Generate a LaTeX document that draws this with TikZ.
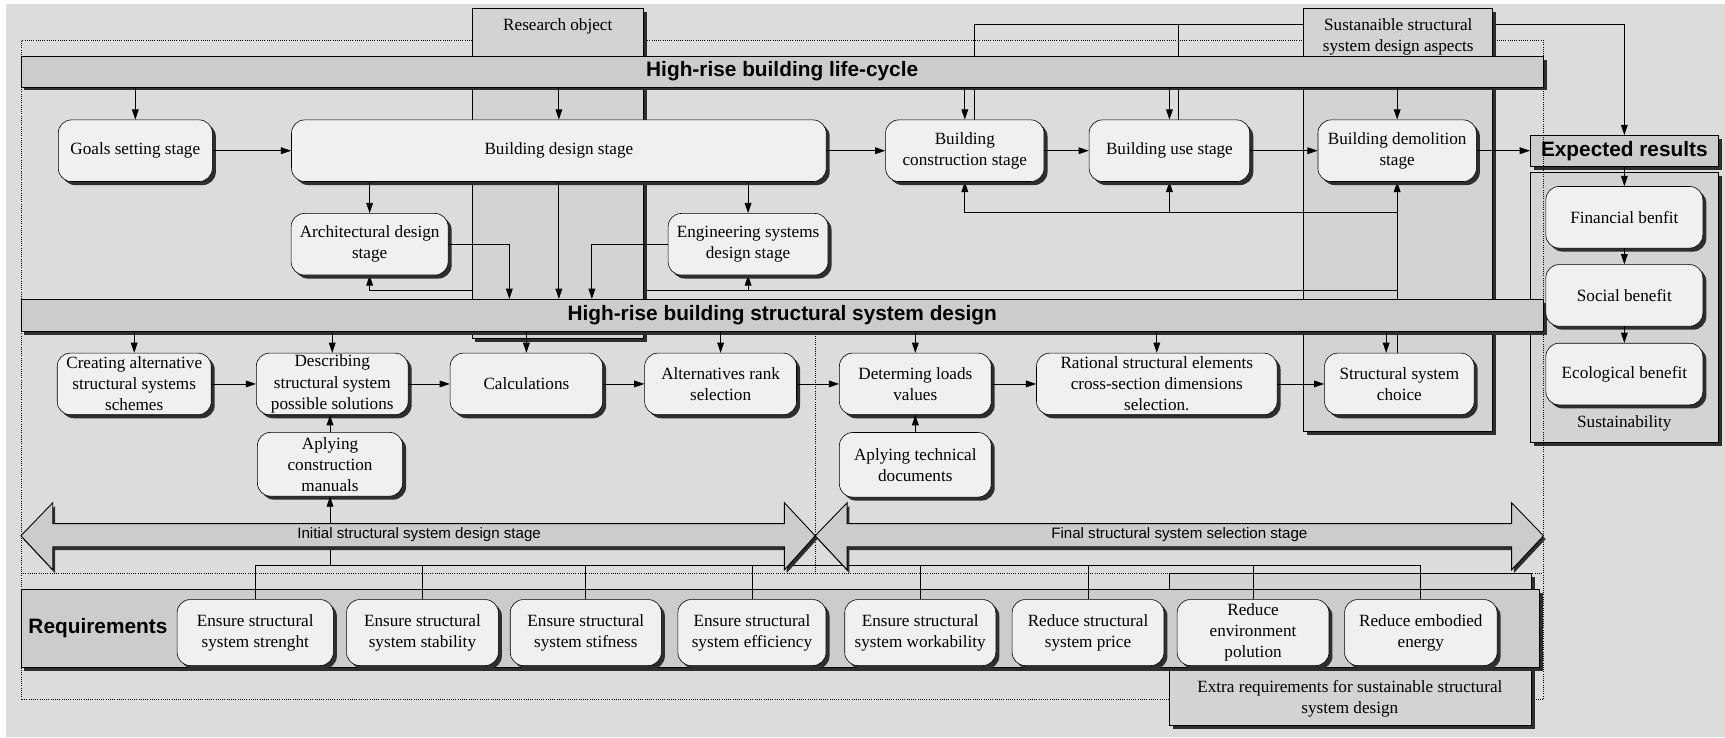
\documentclass[tikz,border=0pt]{standalone}
\usepackage{fontspec}
\setmainfont{Liberation Serif}
\newfontfamily\headfont{Liberation Sans}
\usetikzlibrary{arrows.meta,shadows}

\definecolor{bgcol}{HTML}{DCDCDC}
\definecolor{boxcol}{HTML}{F0F0F0}
\definecolor{barcol}{HTML}{CCCCCC}
\definecolor{panelcol}{HTML}{D3D3D3}
\definecolor{shadecol}{HTML}{2E2E2E}

\pgfdeclarelayer{base}
\pgfdeclarelayer{mid}
\pgfsetlayers{base,mid,main}

\tikzset{every picture/.style={line width=0.7pt}}
\tikzset{
  dropsh/.style={general shadow={fill=shadecol,shadow xshift=2.4pt,shadow yshift=-2.4pt}},
  stagebox/.style={draw,fill=boxcol,rounded corners=9pt,dropsh,align=center,inner sep=0.5pt,
    minimum height=42pt,font=\fontsize{11.7}{14.4}\selectfont},
  reqbox/.style={stagebox,minimum height=45pt},
  barbox/.style={draw,fill=barcol,dropsh,minimum width=1038pt,minimum height=21pt,
    font=\headfont\bfseries\fontsize{14.2}{16}\selectfont},
  panel/.style={draw,line width=0.6pt,fill=panelcol,dropsh},
  seg/.style={line width=0.6pt},
  conn/.style={line width=0.6pt,-{Triangle[length=7pt,width=4.6pt]}},
  sepline/.style={densely dotted,line width=0.5pt},
  lbl/.style={align=center,font=\fontsize{11.7}{14.4}\selectfont},
  smalllbl/.style={font=\headfont\fontsize{10.3}{12}\selectfont},
}

\begin{document}
\begin{tikzpicture}[x=0.75pt,y=0.75pt,yscale=-1,xscale=1]
\useasboundingbox (0,0) rectangle (1568,670);

\begin{pgfonlayer}{base}
%Background
\fill[bgcol] (5,4) rectangle (1568,670);
%Shape: Sustainability panel
\node (sustpanel) [panel,minimum width=128.25pt,minimum height=183.75pt] at (1476.5,279.5) {};
\node (sustlbl) [lbl] at (1476.5,385) {Sustainability};
\node (expres) [barbox,minimum width=128.25pt] at (1476.5,137) {Expected results};
%Dotted frame
\draw[sepline] (19,37) rectangle (1403,636);
\draw[sepline] (19,521) -- (1403,521);
\draw[sepline] (741,301) -- (741,521);
\end{pgfonlayer}

%Shape: Research object panel
\node (respanel) [panel,minimum width=117pt,minimum height=225pt] at (507,158) {};
\node (reslbl) [lbl] at (507,24) {Research object};
%Shape: Extra requirements panel
\node (extrapanel) [panel,minimum width=246.75pt,minimum height=103.5pt] at (1227.5,590) {};
\node (extralbl) [lbl] at (1227,635) {Extra requirements for sustainable structural\\system design};

%Bars
\node (lifebar) [barbox] at (711,65) {High-rise building life-cycle};
\node (structbar) [barbox,minimum height=21.75pt] at (711,286.5) {High-rise building structural system design};
\node (reqbar) [barbox,minimum width=1035pt,minimum height=53.25pt] at (709,571.5) {};
\node (reqlbl) [font=\headfont\bfseries\fontsize{14.2}{16}\selectfont] at (89,571) {Requirements};

%Life-cycle stages
\node (goal) [stagebox,minimum width=105pt] at (123,137) {Goals setting stage};
\node (design) [stagebox,minimum width=364.5pt] at (508,137) {Building design stage};
\node (constr) [stagebox,minimum width=108pt] at (877,137) {Building\\construction stage};
\node (use) [stagebox,minimum width=109.5pt] at (1063,137) {Building use stage};
\node (demol) [stagebox,minimum width=108pt] at (1270,137) {Building demolition\\stage};
\node (arch) [stagebox,minimum width=107pt] at (336,222) {Architectural design\\stage};
\node (eng) [stagebox,minimum width=109pt] at (680,222) {Engineering systems\\design stage};

%Structural design stages
\node (create) [stagebox,minimum width=105pt] at (122,349) {Creating alternative\\structural systems\\schemes};
\node (describe) [stagebox,minimum width=103.5pt] at (302,349) {Describing\\structural system\\possible solutions};
\node (calc) [stagebox,minimum width=104pt] at (478.5,349) {Calculations};
\node (rank) [stagebox,minimum width=103.5pt] at (655,349) {Alternatives rank\\selection};
\node (loads) [stagebox,minimum width=103.5pt] at (832,349) {Determing loads\\values};
\node (rational) [stagebox,minimum width=164pt] at (1051.5,349) {Rational structural elements\\cross-section dimensions\\selection.};
\node (choice) [stagebox,minimum width=102pt] at (1272,349) {Structural system\\choice};
\node (manuals) [stagebox,minimum width=99pt,minimum height=43.5pt] at (300,422) {Aplying\\construction\\manuals};
\node (tech) [stagebox,minimum width=103.5pt,minimum height=44pt] at (832,422.5) {Aplying technical\\documents};

%Requirements
\node (strength) [reqbox,minimum width=106.5pt] at (232,575) {Ensure structural\\system strenght};
\node (stability) [reqbox,minimum width=103.5pt] at (384,575) {Ensure structural\\system stability};
\node (stiffness) [reqbox,minimum width=103pt] at (532.5,575) {Ensure structural\\system stifness};
\node (efficiency) [reqbox,minimum width=101pt] at (683.5,575) {Ensure structural\\system efficiency};
\node (workability) [reqbox,minimum width=103pt] at (836.5,575) {Ensure structural\\system workability};
\node (price) [reqbox,minimum width=103.5pt] at (989,575) {Reduce structural\\system price};
\node (pollution) [reqbox,minimum width=103.5pt] at (1139,575) {Reduce\\environment\\polution};
\node (energy) [reqbox,minimum width=104pt] at (1291.5,575) {Reduce embodied\\energy};

%Expected results
\node (fin) [stagebox,minimum width=107pt] at (1476.5,197.5) {Financial benfit};
\node (soc) [stagebox,minimum width=107pt] at (1476.5,268.5) {Social benefit};
\node (eco) [stagebox,minimum width=107pt] at (1476.5,340) {Ecological benefit};

%Requirement links
\coordinate (reqleft) at (232,514);
\draw[seg] (reqleft) -- (reqleft -| energy.north);
\foreach \n in {strength,stability,stiffness,efficiency,workability,price,pollution,energy}
  \draw[seg] (\n.north |- reqleft) -- (\n.north);
\draw[conn] (manuals.south |- reqleft) -- (manuals.south);

%Stage arrows
\foreach \a/\b/\c/\d in {19/48/713/741,741/770/1374/1403}
  \fill[shadecol,shift={(2,3)}] (\a,487) -- (\b,457) -- (\b,476) -- (\c,476) -- (\c,457) -- (\d,487) -- (\c,518) -- (\c,497) -- (\b,497) -- (\b,518) -- cycle;
\foreach \a/\b/\c/\d in {19/48/713/741,741/770/1374/1403}
  \fill[barcol] (\a,487) -- (\b,457) -- (\b,476) -- (\c,476) -- (\c,457) -- (\d,487) -- (\c,518) -- (\c,497) -- (\b,497) -- (\b,518) -- cycle;
\foreach \a/\b/\c/\d in {19/48/713/741,741/770/1374/1403}
  \draw[seg] (\a,487) -- (\b,457) -- (\b,476) -- (\c,476) -- (\c,457) -- (\d,487) -- (\c,518) -- (\c,497) -- (\b,497) -- (\b,518) -- cycle;
\node (initlbl) [smalllbl] at (381,486) {Initial structural system design stage};
\node (finallbl) [smalllbl] at (1072,486) {Final structural system selection stage};

%Life-cycle flow
\draw[conn] (goal) -- (design);
\draw[conn] (design) -- (constr);
\draw[conn] (constr) -- (use);
\draw[conn] (use) -- (demol);
\draw[conn] (demol.east) -- (demol.east -| expres.west);
\foreach \n in {goal,design,constr,use,demol}
  \draw[conn] (\n.north |- lifebar.south) -- (\n.north);
\draw[conn] (arch.north |- design.south) -- (arch.north);
\draw[conn] (eng.north |- design.south) -- (eng.north);

%Into structural design
\coordinate (archdrop) at (463,222);
\coordinate (engdrop) at (538,222);
\draw[conn] (arch.east) -- (archdrop) -- (archdrop |- structbar.north);
\draw[conn] (eng.west) -- (engdrop) -- (engdrop |- structbar.north);
\draw[conn] (design.south) -- (design.south |- structbar.north);
\foreach \n in {create,describe,calc,rank,loads,rational}
  \draw[conn] (\n.north |- structbar.south) -- (\n.north);
\coordinate (choicein) at ([xshift=-9pt]choice.north);
\draw[conn] (choicein |- structbar.south) -- (choicein);

%Structural design flow
\foreach \a/\b in {create/describe,describe/calc,calc/rank,rank/loads,loads/rational,rational/choice}
  \draw[conn] (\a) -- (\b);
\draw[conn] (manuals.north) -- (manuals.north |- describe.south);
\draw[conn] (tech) -- (loads);

%Benefits
\draw[conn] (expres) -- (fin);
\draw[conn] (fin) -- (soc);
\draw[conn] (soc) -- (eco);

\begin{pgfonlayer}{base}
%Sustainability links
\coordinate (sumtop) at (1476.5,22);
\coordinate (construp) at ([xshift=6.5pt]constr.north);
\coordinate (useup) at ([xshift=6pt]use.north);
\draw[seg] (construp) |- (sumtop);
\draw[seg] (useup) -- (useup |- sumtop);
\draw[conn] (sumtop) -- (expres.north);
%Shape: Sustainable aspects panel
\node (asppanel) [panel,minimum width=129pt,minimum height=288pt] at (1271,200) {};
\node (asplbl) [lbl] at (1271,33.5) {Sustanaible structural\\system design aspects};
\end{pgfonlayer}

\begin{pgfonlayer}{mid}
%Feedback from structural system choice
\coordinate (fbA) at (1270,193);
\coordinate (fbB) at (1270,264);
\draw[conn] (demol.south |- choice.north) -- (demol.south);
\draw[conn] (fbA) -| (constr.south);
\draw[conn] (fbA -| use.south) -- (use.south);
\draw[conn] (fbB) -| (arch.south);
\draw[conn] (fbB -| eng.south) -- (eng.south);
\end{pgfonlayer}

\end{tikzpicture}
\end{document}
